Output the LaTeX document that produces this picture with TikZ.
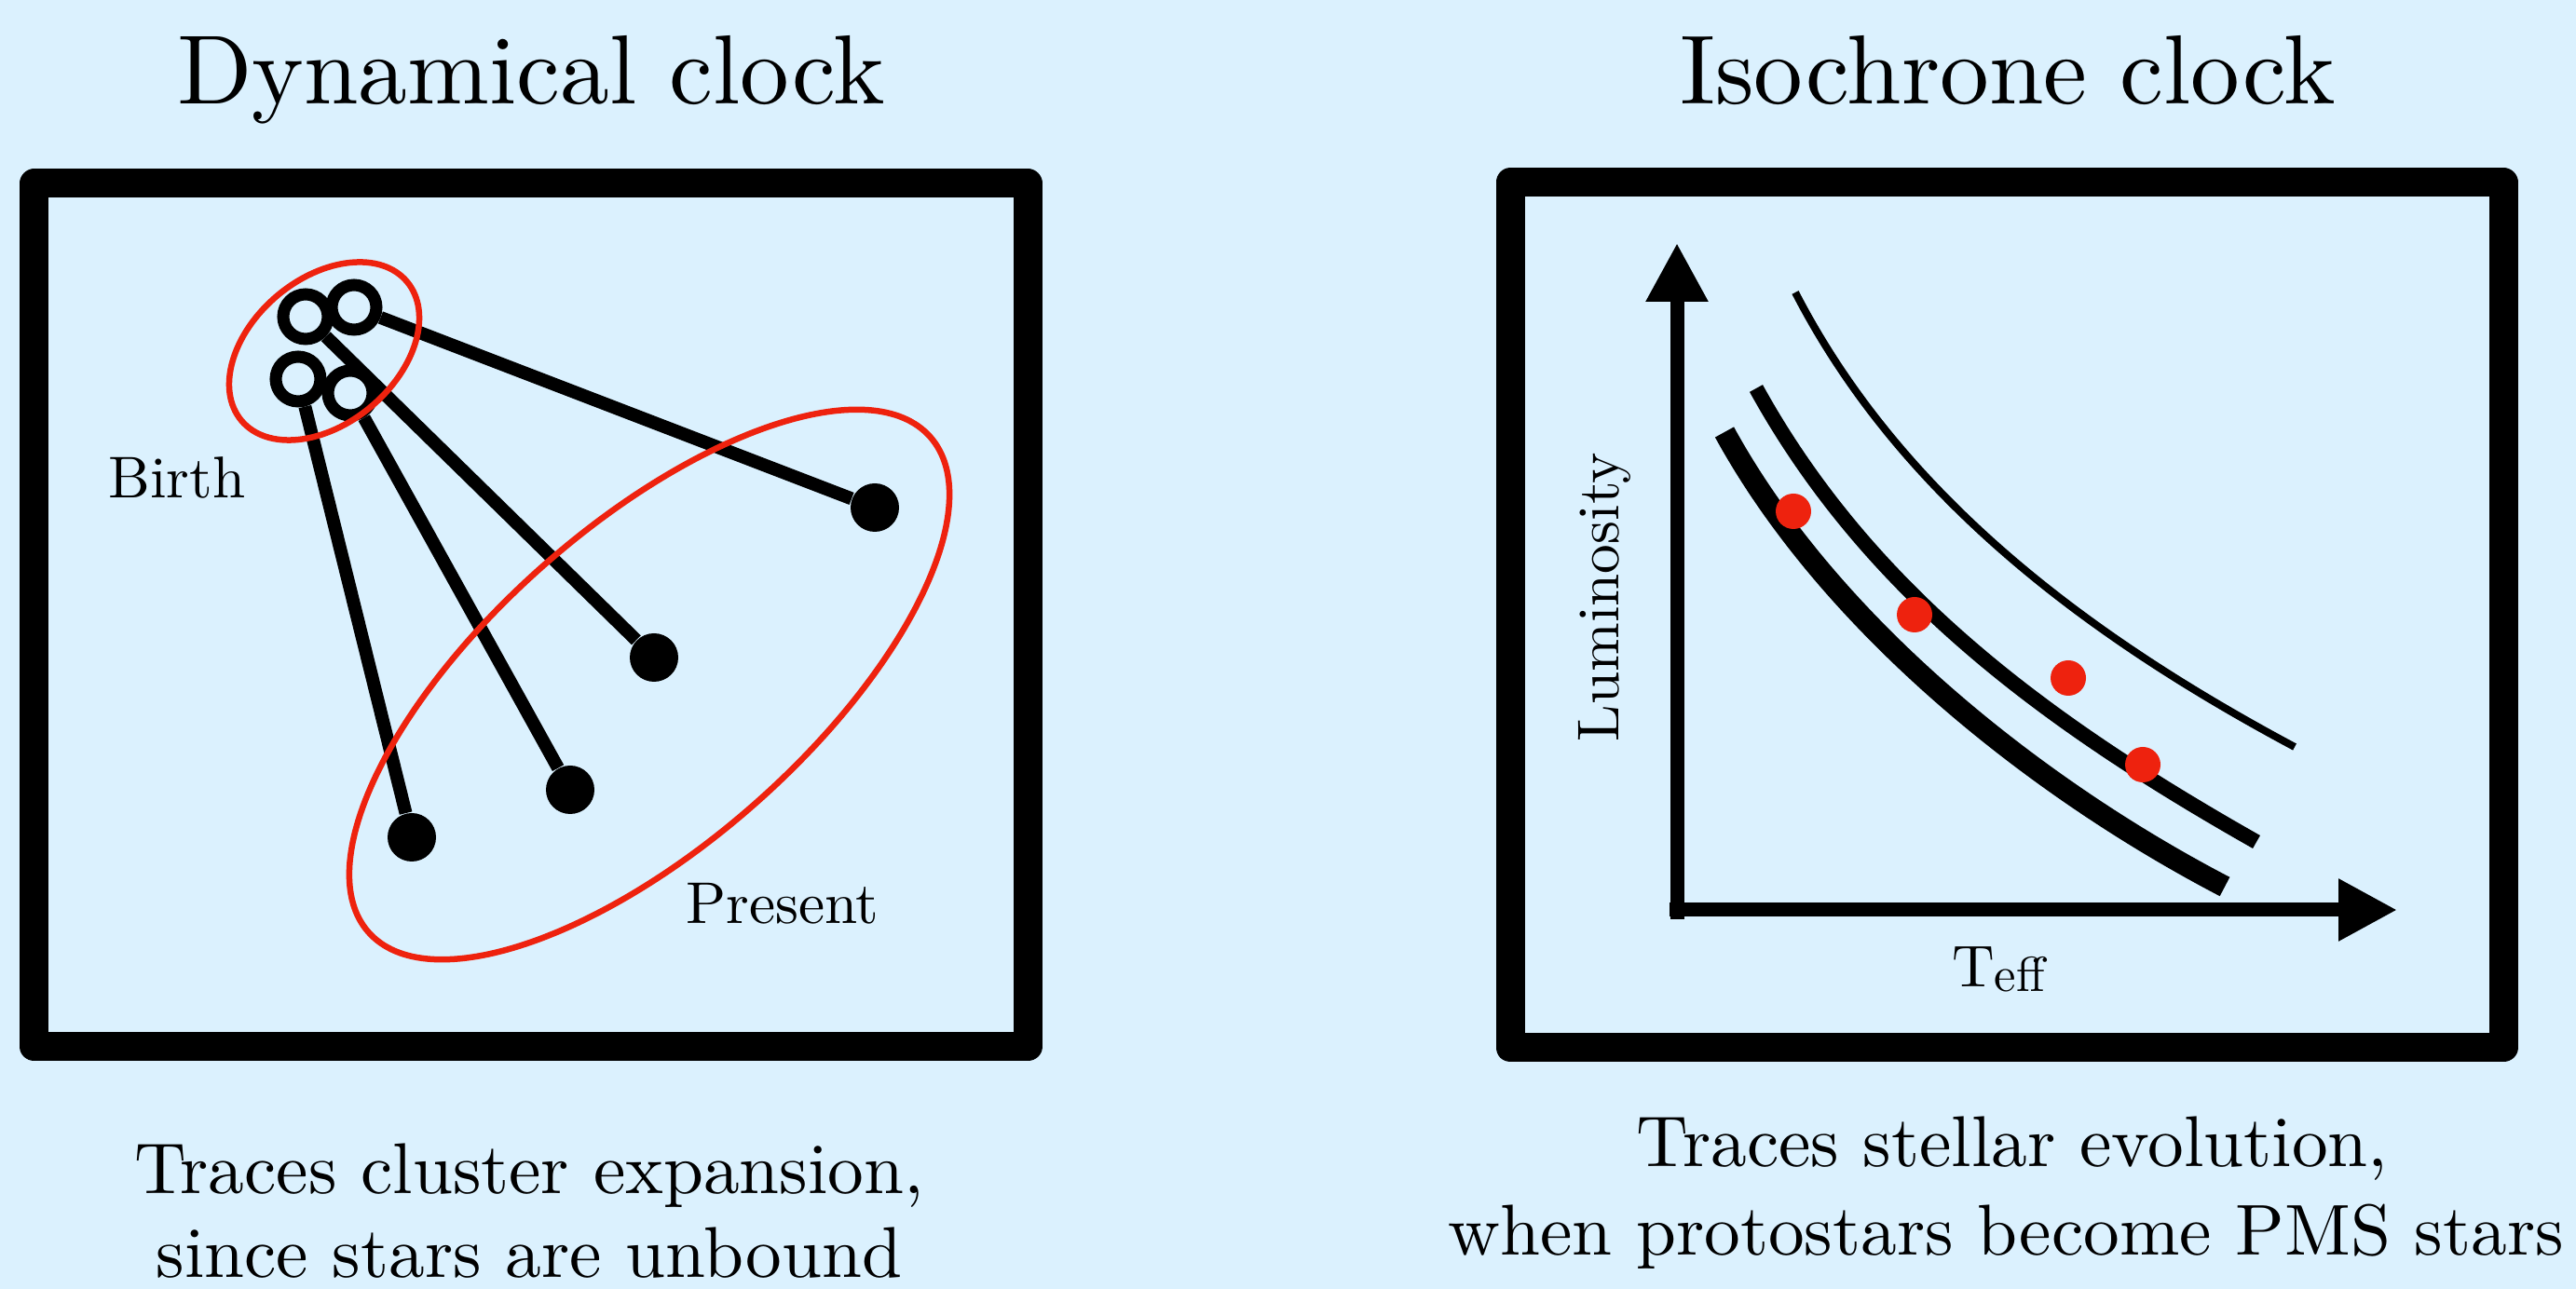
\documentclass[tikz,border=0pt]{standalone}
\usepackage{fontspec}
\setmainfont{lmroman10-regular.otf}
\usetikzlibrary{arrows.meta}
\definecolor{skyback}{RGB}{219,241,254}
\definecolor{clockred}{RGB}{238,34,14}
\begin{document}
\begin{tikzpicture}[
  frame/.style={line width=0.31cm, line join=round},
  headtext/.style={anchor=base, inner sep=0pt, font=\fontsize{30}{36}\selectfont},
  foottext/.style={anchor=base, inner sep=0pt, font=\fontsize{22}{26}\selectfont},
  smalltext/.style={anchor=base, inner sep=0pt, font=\fontsize{18}{22}\selectfont},
  born/.style={circle, draw, line width=0.13cm, fill=skyback, minimum size=0.48cm, inner sep=0pt},
  now/.style={circle, fill, minimum size=0.52cm, inner sep=0pt},
  track/.style={line width=0.14cm},
  ring/.style={clockred, line width=0.065cm},
  axis/.style={line width=0.15cm, -{Triangle[length=0.63cm,width=0.63cm]}},
  reddot/.style={circle, fill=clockred, minimum size=0.38cm, inner sep=0pt}
]
\fill[skyback] (0,0) rectangle (27.65,-13.84);
\useasboundingbox (0,0) rectangle (27.65,-13.84);

% titles and captions
\node[headtext] (dyntitle) at (5.70,-1.12) {Dynamical clock};
\node[headtext] (isotitle) at (21.55,-1.12) {Isochrone clock};
\node[foottext] (dynfoot1) at (5.68,-12.82) {Traces cluster expansion,};
\node[foottext] (dynfoot2) at (5.68,-13.72) {since stars are unbound};
\node[foottext] (isofoot1) at (21.60,-12.53) {Traces stellar evolution,};
\node[foottext] (isofoot2) at (21.53,-13.48) {when protostars become PMS stars};

% frames
\draw[frame] (0.37,-1.97) rectangle (11.03,-11.24);
\draw[frame] (16.21,-1.96) rectangle (26.87,-11.25);

% dynamical clock
\node[born] (b1) at (3.28,-3.40) {};
\node[born] (b2) at (3.80,-3.30) {};
\node[born] (b3) at (3.20,-4.07) {};
\node[born] (b4) at (3.76,-4.22) {};
\node[now] (p1) at (9.39,-5.45) {};
\node[now] (p2) at (7.02,-7.06) {};
\node[now] (p3) at (6.12,-8.48) {};
\node[now] (p4) at (4.42,-8.99) {};
\draw[track] (b2) -- (p1);
\draw[track] (b1) -- (p2);
\draw[track] (b4) -- (p3);
\draw[track] (b3) -- (p4);
\draw[ring, rotate around={40:(3.48,-3.77)}] (3.48,-3.77) ellipse (1.16 and 0.78);
\draw[ring, rotate around={41.4:(6.97,-7.35)}] (6.97,-7.35) ellipse (4.02 and 1.71);
\node[smalltext] (birth) at (1.90,-5.35) {Birth};
\node[smalltext] (present) at (8.40,-9.92) {Present};

% isochrone clock
\coordinate (ybot) at (18.00,-9.87);
\coordinate (ytop) at (18.00,-2.61);
\coordinate (xleft) at (17.92,-9.77);
\coordinate (xright) at (25.73,-9.77);
\draw[axis] (ybot) -- (ytop);
\draw[axis] (xleft) -- (xright);
\draw[line width=0.23cm] (18.51,-4.64) .. controls (19.62,-6.67) and (21.80,-8.435) .. (23.88,-9.52);
\draw[line width=0.16cm] (18.85,-4.17) .. controls (20.09,-6.42) and (22.07,-7.82) .. (24.22,-9.04);
\draw[line width=0.08cm] (19.27,-3.14) .. controls (20.42,-5.37) and (22.48,-6.87) .. (24.63,-8.02);
\node[reddot] (s1) at (19.25,-5.49) {};
\node[reddot] (s2) at (20.55,-6.60) {};
\node[reddot] (s3) at (22.20,-7.28) {};
\node[reddot] (s4) at (23.00,-8.21) {};
\node[smalltext, rotate=90] (lum) at (17.37,-6.41) {Luminosity};
\node[smalltext] (teff) at (21.45,-10.60) {T\raisebox{-0.05cm}{\fontsize{15}{15}\selectfont eff}};
\end{tikzpicture}
\end{document}
